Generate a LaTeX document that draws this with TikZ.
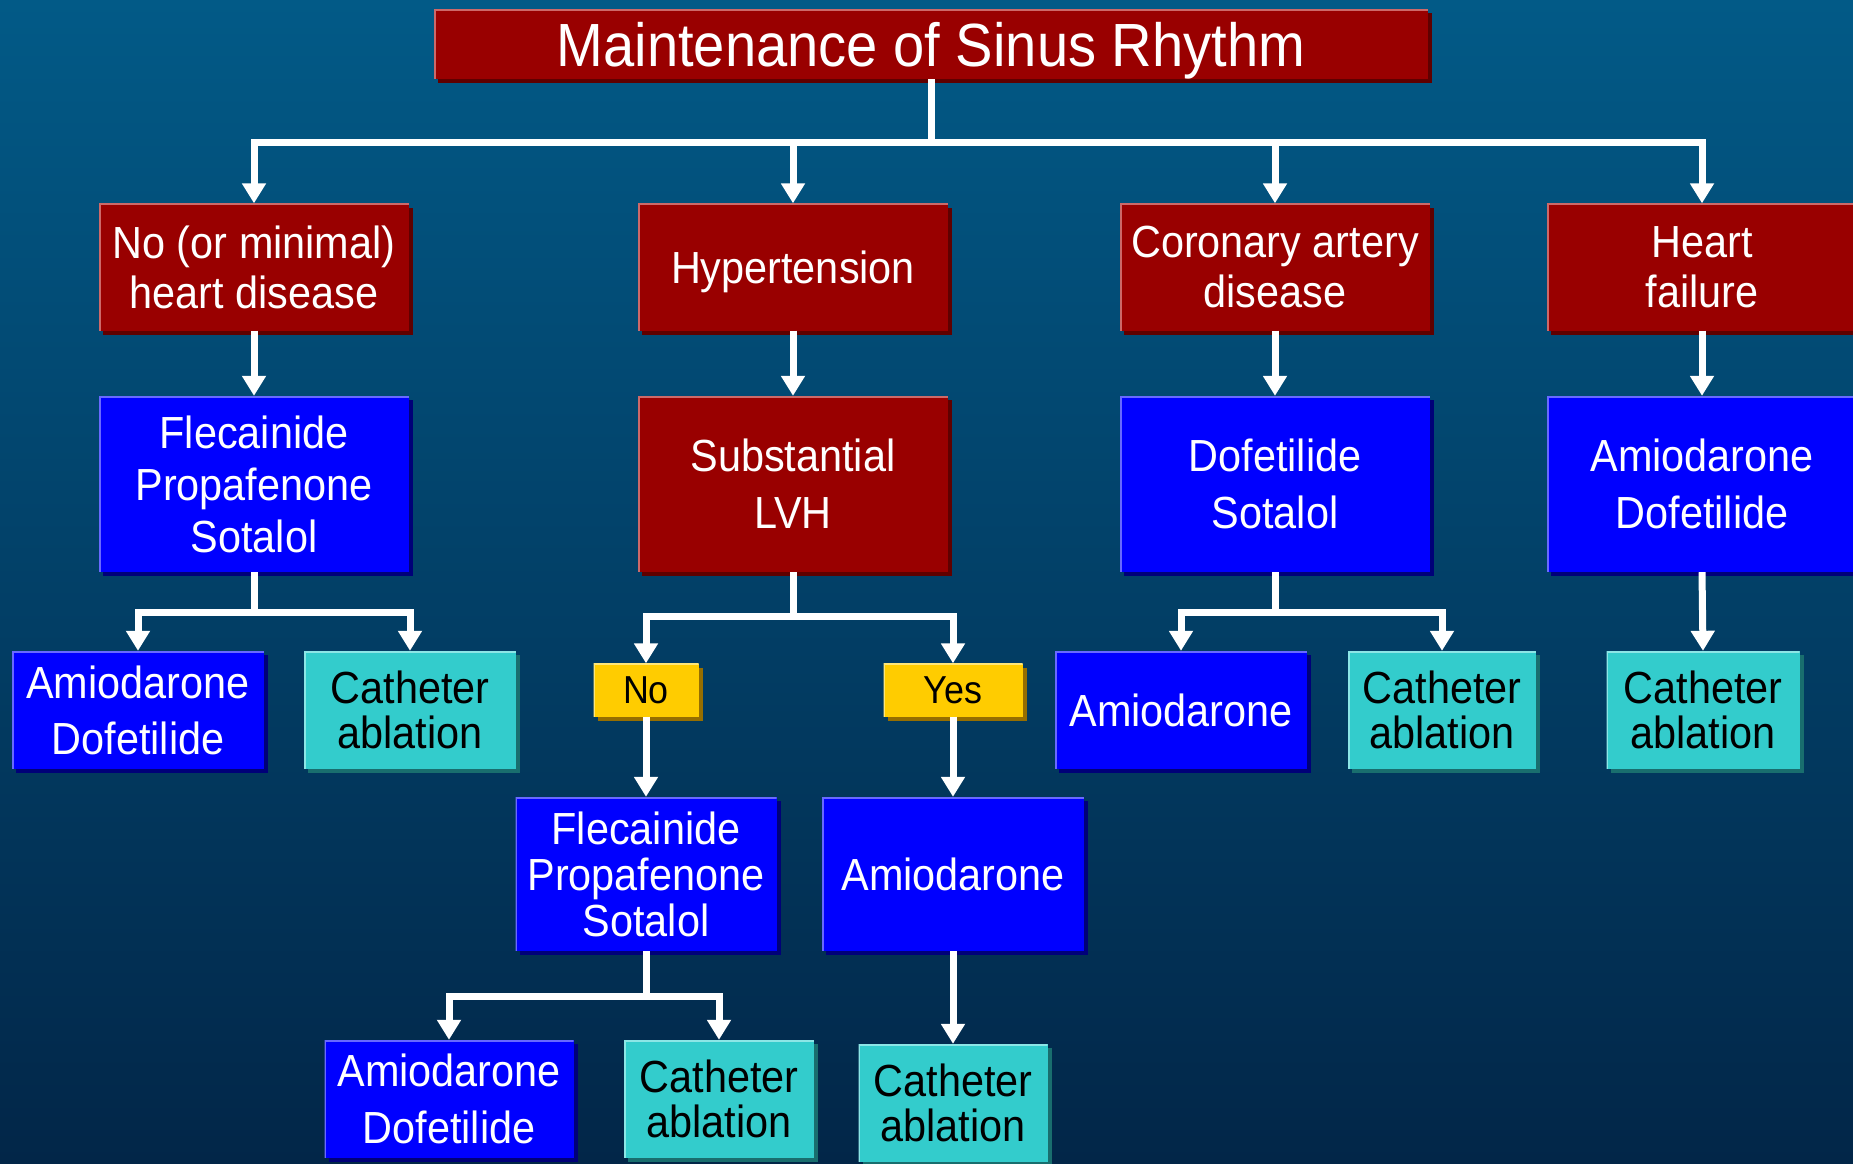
\documentclass[tikz,border=0pt]{standalone}
\usepackage{fontspec}
\setmainfont{Liberation Sans}[FakeStretch=0.92]
\usetikzlibrary{arrows.meta,shadows}
\definecolor{bgtop}{RGB}{2,90,135}
\definecolor{bgbot}{RGB}{2,38,72}
\definecolor{boxred}{RGB}{153,0,0}
\definecolor{redlit}{RGB}{205,105,105}
\definecolor{redshade}{RGB}{95,0,0}
\definecolor{boxblue}{RGB}{0,0,255}
\definecolor{bluelit}{RGB}{105,105,255}
\definecolor{blueshade}{RGB}{0,0,120}
\definecolor{boxteal}{RGB}{51,204,204}
\definecolor{teallit}{RGB}{140,230,230}
\definecolor{tealshade}{RGB}{25,110,110}
\definecolor{boxyellow}{RGB}{255,204,0}
\definecolor{yellowlit}{RGB}{255,230,120}
\definecolor{yellowshade}{RGB}{150,110,0}
\newcommand{\boxfont}[2][45]{\fontsize{#1}{#2}\selectfont}
\tikzset{
  wh/.style 2 args={minimum width=#1pt,minimum height=#2pt},
  lit/.style={path picture={\draw[line width=3pt,#1] (path picture bounding box.south west) |- (path picture bounding box.north east);}},
  box/.style={inner sep=0pt,align=center,text depth=0pt,font=\boxfont{50}},
  redbox/.style={box,fill=boxred,text=white,lit=redlit,drop shadow={shadow xshift=4pt,shadow yshift=-4pt,fill=redshade,opacity=1}},
  bluebox/.style={box,fill=boxblue,text=white,lit=bluelit,drop shadow={shadow xshift=4pt,shadow yshift=-4pt,fill=blueshade,opacity=1}},
  tealbox/.style={box,fill=boxteal,text=black,lit=teallit,font=\boxfont{45},drop shadow={shadow xshift=4pt,shadow yshift=-4pt,fill=tealshade,opacity=1}},
  yesno/.style={box,fill=boxyellow,text=black,lit=yellowlit,font=\boxfont[39]{42},drop shadow={shadow xshift=4pt,shadow yshift=-4pt,fill=yellowshade,opacity=1}},
  link/.style={white,line width=7pt,-{Triangle[width=23pt,length=20pt]}}
}
\begin{document}
\begin{tikzpicture}[x=1pt,y=-1pt]
\useasboundingbox (0,0) rectangle (1853,1163);
\clip (0,0) rectangle (1853,1163);
\shade[top color=bgtop,bottom color=bgbot] (0,0) rectangle (1853,1163);

\node[redbox,wh={994}{70},font=\fontsize{61}{66}\selectfont] (title) at (931,44) {Maintenance of Sinus Rhythm};

\node[redbox,wh={310}{127}] (none) at (254,267) {No (or minimal)\\heart disease};
\node[redbox,wh={310}{127}] (htn) at (793,267) {Hypertension};
\node[redbox,wh={310}{127}] (cad) at (1275,267) {Coronary artery\\disease};
\node[redbox,wh={310}{127}] (hf) at (1702,267) {Heart\\failure};

\node[bluebox,wh={310}{176},font=\boxfont{52}] (noneRx) at (254,484) {Flecainide\\Propafenone\\Sotalol};
\node[redbox,wh={310}{176},font=\boxfont{57}] (lvh) at (793,484) {Substantial\\LVH};
\node[bluebox,wh={310}{176},font=\boxfont{57}] (cadRx) at (1275,484) {Dofetilide\\Sotalol};
\node[bluebox,wh={310}{176},font=\boxfont{57}] (hfRx) at (1702,484) {Amiodarone\\Dofetilide};

\node[bluebox,wh={252}{118},font=\boxfont{56}] (noneAlt) at (138,710) {Amiodarone\\Dofetilide};
\node[tealbox,wh={212}{118}] (noneAbl) at (410,710) {Catheter\\ablation};
\node[yesno,wh={105}{53}] (no) at (646,690) {No};
\node[yesno,wh={139}{53}] (yes) at (953,690) {Yes};
\node[bluebox,wh={252}{118}] (cadAlt) at (1181,710) {Amiodarone};
\node[tealbox,wh={188}{118}] (cadAbl) at (1442,710) {Catheter\\ablation};
\node[tealbox,wh={193}{118}] (hfAbl) at (1703,710) {Catheter\\ablation};

\node[bluebox,wh={261}{154},font=\boxfont{46}] (noRx) at (646,874) {Flecainide\\Propafenone\\Sotalol};
\node[bluebox,wh={262}{154}] (yesRx) at (953,874) {Amiodarone};

\node[bluebox,wh={249}{118},font=\boxfont{57}] (noAlt) at (449,1099) {Amiodarone\\Dofetilide};
\node[tealbox,wh={190}{118}] (noAbl) at (719,1099) {Catheter\\ablation};
\node[tealbox,wh={189}{118}] (yesAbl) at (953,1103) {Catheter\\ablation};

\coordinate (topbus) at (931,142);
\coordinate (nonebus) at (254,612);
\coordinate (lvhbus) at (793,616);
\coordinate (cadbus) at (1275,612);
\coordinate (nobus) at (646,996);

\foreach \n in {none,htn,cad,hf}{
\draw[link] (title.south) -- (topbus) -| (\n.north);
}
\draw[link] (none.south) -- (noneRx.north);
\draw[link] (htn.south) -- (lvh.north);
\draw[link] (cad.south) -- (cadRx.north);
\draw[link] (hf.south) -- (hfRx.north);
\foreach \n in {noneAlt,noneAbl}{
\draw[link] (noneRx.south) -- (nonebus) -| (\n.north);
}
\foreach \n in {no,yes}{
\draw[link] (lvh.south) -- (lvhbus) -| (\n.north);
}
\foreach \n in {cadAlt,cadAbl}{
\draw[link] (cadRx.south) -- (cadbus) -| (\n.north);
}
\draw[link] (hfRx.south) -- (hfAbl.north);
\draw[link] (no.south) -- (noRx.north);
\draw[link] (yes.south) -- (yesRx.north);
\foreach \n in {noAlt,noAbl}{
\draw[link] (noRx.south) -- (nobus) -| (\n.north);
}
\draw[link] (yesRx.south) -- (yesAbl.north);
\end{tikzpicture}
\end{document}
